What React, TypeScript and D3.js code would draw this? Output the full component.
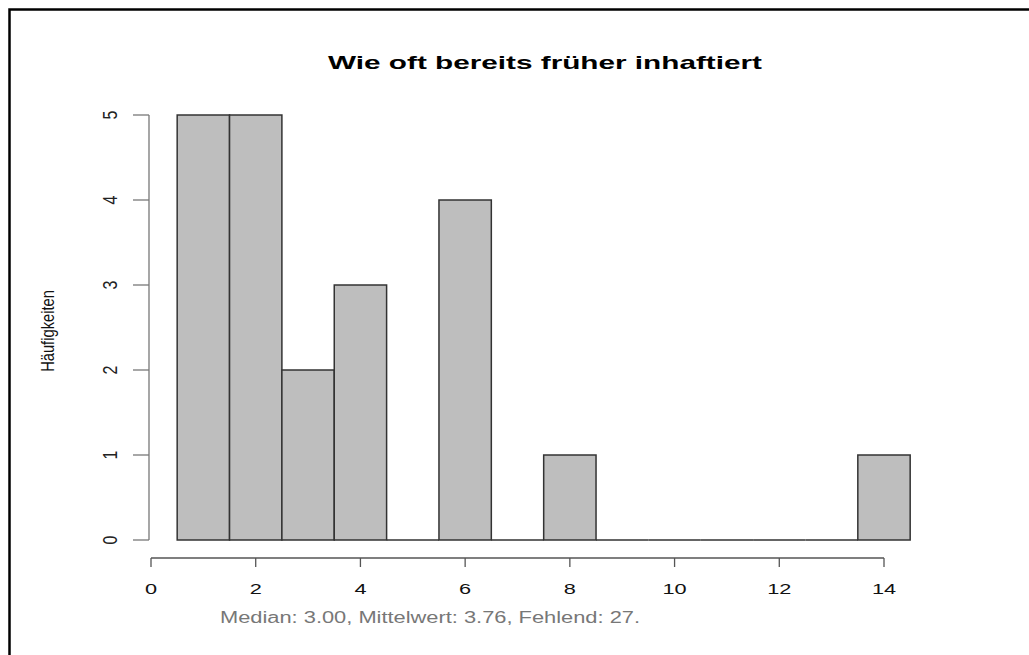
import React from 'react'
import * as d3 from 'd3'

// histogram bins (width 1, centred on the integers)
const binStarts = [0.5, 1.5, 2.5, 3.5, 4.5, 5.5, 6.5, 7.5, 8.5, 9.5, 10.5, 11.5, 12.5, 13.5]
const counts = [5, 5, 2, 3, 0, 4, 0, 1, 0, 0, 0, 0, 0, 1]
const xTicks = [0, 2, 4, 6, 8, 10, 12, 14]
const yTicks = [0, 1, 2, 3, 4, 5]

const title = 'Wie oft bereits früher inhaftiert'
const yLabel = 'Häufigkeiten'
const subtitle = 'Median: 3.00, Mittelwert: 3.76, Fehlend: 27.'

const W = 1029
const H = 655

const App = () => {
  const x = d3.scaleLinear().domain([0, 14]).range([151, 884])
  const y = d3.scaleLinear().domain([0, 5]).range([540, 115])

  const barPath = (start, count) => {
    const p = d3.path()
    p.rect(x(start), y(count), x(start + 1) - x(start), y(0) - y(count))
    return p.toString()
  }

  const axisY = 558
  const axisX = 149
  const font = '"Liberation Sans", Arial, Helvetica, sans-serif'

  return (
    <svg width={W} height={H} style={{ position: 'absolute', left: 0, top: 0, background: '#fff' }} fontFamily={font}>
      {/* outer frame */}
      <path d={`M9.5,${H} L9.5,9.5 L${W},9.5`} fill="none" stroke="#000" strokeWidth={2.5} />

      <text x={545} y={69} textAnchor="middle" fontWeight="bold" fontSize={19} textLength={434} lengthAdjust="spacingAndGlyphs">
        {title}
      </text>

      {/* bars */}
      <g>
        {binStarts.map((s, i) => (
          <path key={i} d={barPath(s, counts[i])} fill="#bebebe" stroke="#333" strokeWidth={1.5} />
        ))}
      </g>

      {/* y axis */}
      <g stroke="#777" strokeWidth={1.3}>
        <line x1={axisX} x2={axisX} y1={y(0)} y2={y(5)} />
        {yTicks.map(t => (
          <line key={t} x1={axisX - 16} x2={axisX} y1={y(t)} y2={y(t)} />
        ))}
      </g>
      {yTicks.map(t => (
        <text key={t} transform={`translate(117,${y(t)}) rotate(-90) scale(1,1.3)`} textAnchor="middle" fontSize={16} fill="#222">
          {t}
        </text>
      ))}
      <text transform={`translate(54,331) rotate(-90) scale(1.05,1.35)`} textAnchor="middle" fontSize={14} fill="#111">
        {yLabel}
      </text>

      {/* x axis */}
      <g stroke="#555" strokeWidth={1.3}>
        <line x1={x(0)} x2={x(14)} y1={axisY} y2={axisY} />
        {xTicks.map(t => (
          <line key={t} x1={x(t)} x2={x(t)} y1={axisY} y2={axisY + 9} />
        ))}
      </g>
      {xTicks.map(t => (
        <text key={t} transform={`translate(${x(t)},594) scale(1.45,1)`} textAnchor="middle" fontSize={15} fill="#111">
          {t}
        </text>
      ))}

      <text x={430} y={623} textAnchor="middle" fontSize={16} fill="#777" textLength={420} lengthAdjust="spacingAndGlyphs">
        {subtitle}
      </text>
    </svg>
  )
}

export default App
